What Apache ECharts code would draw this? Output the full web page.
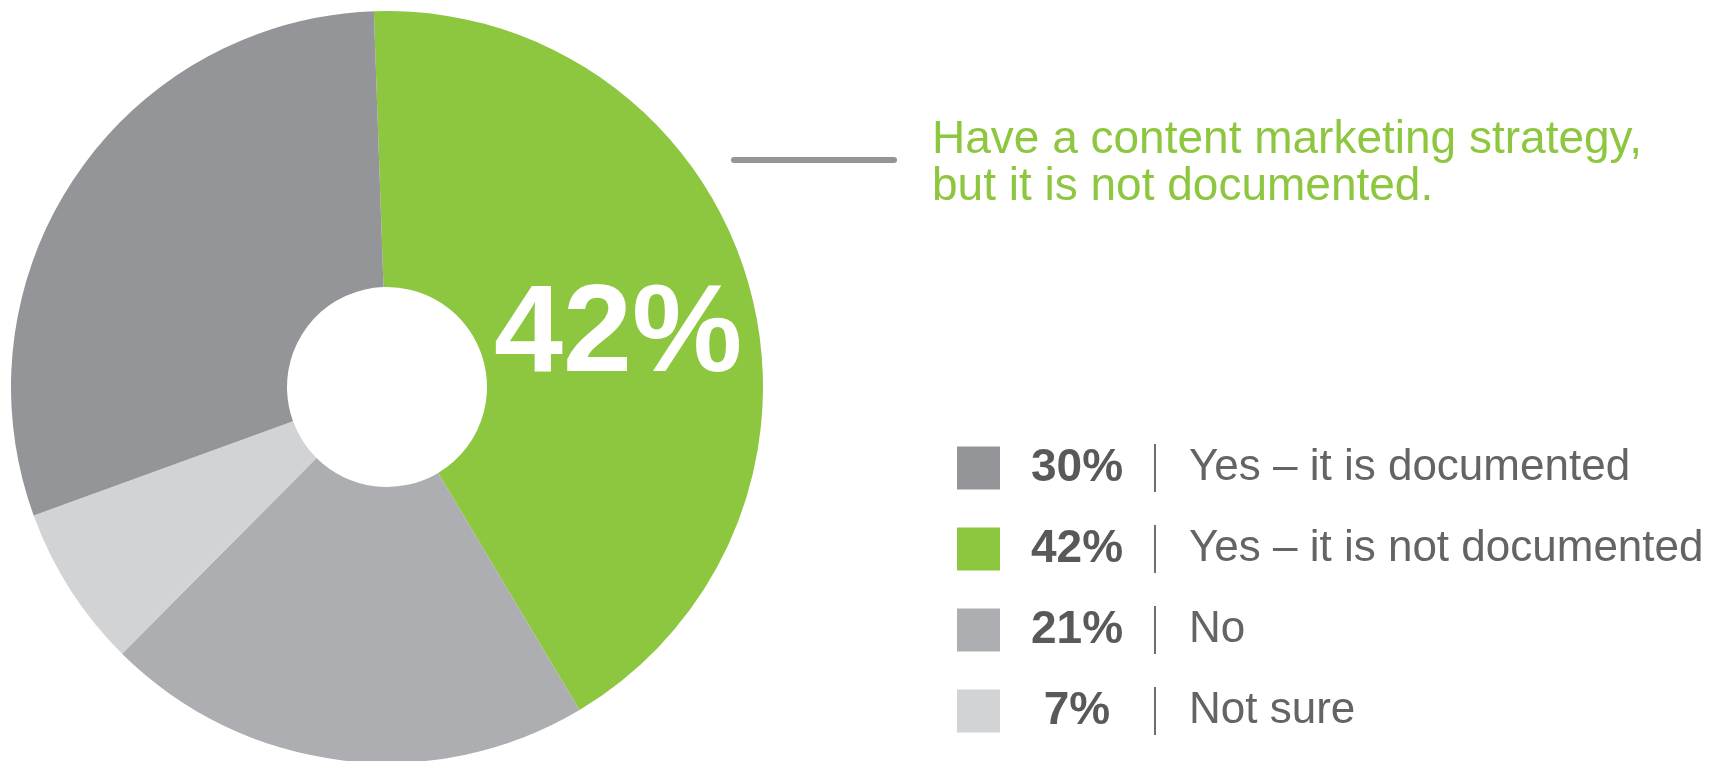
<!DOCTYPE html>
<html>
<head>
<meta charset="utf-8">
<script src="https://cdn.jsdelivr.net/npm/echarts@6/dist/echarts.min.js"></script>
<style>
  html, body { margin: 0; padding: 0; background: #ffffff; }
  #chart { width: 1719px; height: 761px; }
</style>
</head>
<body>
<div id="chart"></div>
<script>
// Survey answers, in clockwise slice order starting near 12 o'clock
const categories = ['Yes – it is not documented', 'No', 'Not sure', 'Yes – it is documented'];
const shares = [42, 21, 7, 30];
const sliceColors = ['#8dc63f', '#adaeb1', '#d1d3d4', '#939598'];

// Legend rows are listed in this order
const legendOrder = ['Yes – it is documented', 'Yes – it is not documented', 'No', 'Not sure'];

// Callout beside the highlighted slice
const highlightName = 'Yes – it is not documented';
const calloutLines = ['Have a content marketing strategy,', 'but it is not documented.'];

const shareByName = {};
categories.forEach((c, i) => { shareByName[c] = shares[i]; });

const chart = echarts.init(document.getElementById('chart'), null, { renderer: 'canvas' });

const option = {
  animation: false,
  backgroundColor: '#ffffff',
  legend: {
    data: legendOrder,
    orient: 'vertical',
    left: 952,
    top: 439,
    icon: 'rect',
    itemWidth: 43,
    itemHeight: 43,
    itemGap: 33,
    selectedMode: false,
    formatter: name => `{p|${shareByName[name]}%}{g1| }{s| }{g2| }{n|${name}}`,
    textStyle: {
      rich: {
        p: { fontFamily: 'Liberation Sans', fontWeight: 'bold', fontSize: 46, color: '#58595b', width: 144, align: 'right', lineHeight: 48 },
        g1: { width: 5, lineHeight: 48 },
        s: { width: 2, height: 48, backgroundColor: '#6d6e71', lineHeight: 48 },
        g2: { width: 33, lineHeight: 48 },
        n: { fontFamily: 'Liberation Sans', fontSize: 44, color: '#636466', lineHeight: 48 }
      }
    }
  },
  series: [{
    type: 'pie',
    center: [387, 387],
    radius: [100, 376],
    startAngle: 92,
    clockwise: true,
    avoidLabelOverlap: false,
    silent: true,
    labelLine: { show: false },
    labelLayout: { dy: 18 },
    data: categories.map((c, i) => ({
      name: c,
      value: shares[i],
      itemStyle: { color: sliceColors[i] },
      label: {
        show: c === highlightName,
        position: 'inside',
        formatter: '{c}%',
        color: '#ffffff',
        fontFamily: 'Liberation Sans',
        fontWeight: 'bold',
        fontSize: 124
      }
    }))
  }],
  graphic: [
    {
      type: 'line',
      shape: { x1: 734, y1: 160, x2: 894, y2: 160 },
      style: { stroke: '#939598', lineWidth: 6, lineCap: 'round' }
    },
    {
      type: 'text',
      x: 932,
      y: 164,
      style: {
        text: calloutLines.join('\n'),
        fontFamily: 'Liberation Sans',
        fontSize: 46,
        lineHeight: 47,
        fill: '#8dc63f',
        verticalAlign: 'middle',
        align: 'left'
      }
    }
  ]
};

chart.setOption(option);
</script>
</body>
</html>
